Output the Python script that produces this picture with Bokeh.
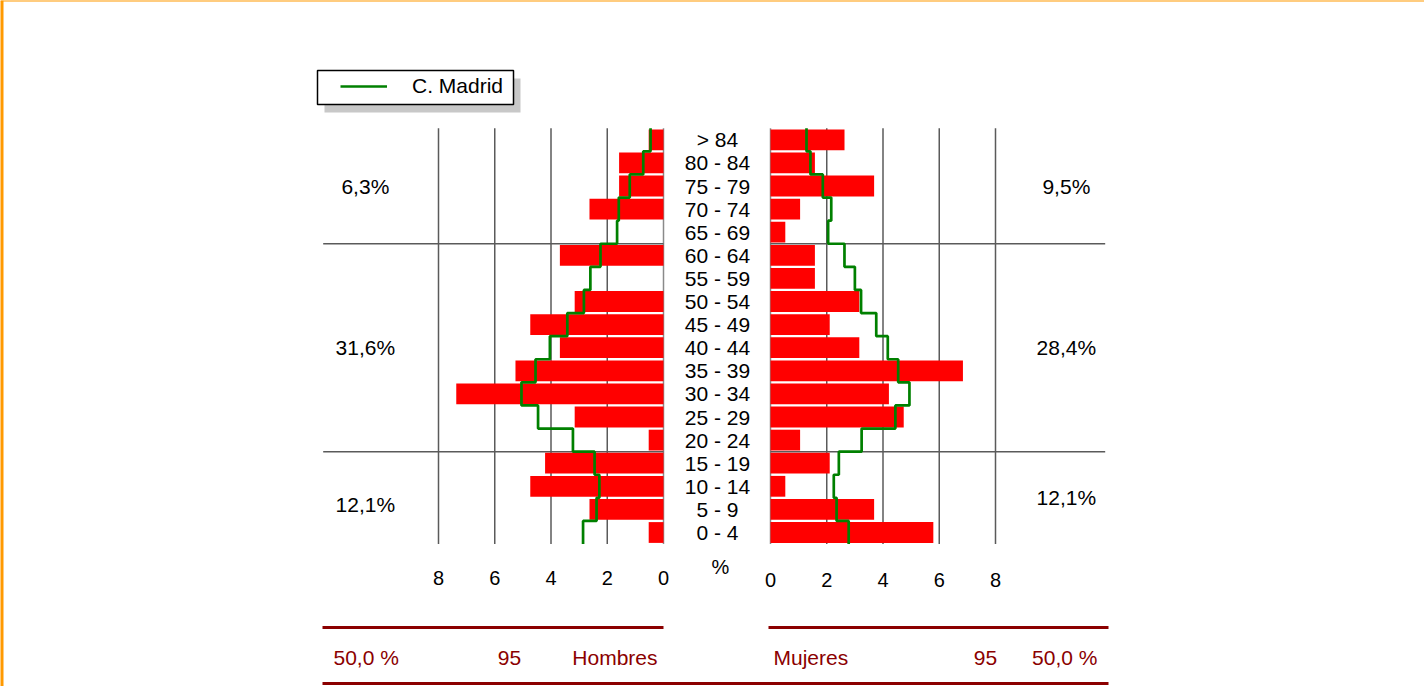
from bokeh.plotting import figure
from bokeh.models import Span, BoxAnnotation, Legend, LegendItem
from bokeh.core.properties import value
from bokeh.embed import file_html
from bokeh.resources import INLINE

# ---------------- data ----------------
age_groups = ["0 - 4", "5 - 9", "10 - 14", "15 - 19", "20 - 24", "25 - 29",
              "30 - 34", "35 - 39", "40 - 44", "45 - 49", "50 - 54", "55 - 59",
              "60 - 64", "65 - 69", "70 - 74", "75 - 79", "80 - 84", "> 84"]
hombres = [1, 5, 9, 8, 1, 6, 14, 10, 7, 9, 6, 0, 7, 0, 5, 3, 3, 1]
mujeres = [11, 7, 1, 4, 2, 9, 8, 13, 6, 4, 6, 3, 3, 1, 2, 7, 3, 5]
madrid_h = [2.86, 2.38, 2.28, 2.45, 3.22, 4.46, 5.05, 4.55, 4.04, 3.42,
            2.83, 2.60, 2.24, 1.65, 1.59, 1.20, 0.72, 0.46]
madrid_m = [2.78, 2.35, 2.25, 2.43, 3.24, 4.44, 4.94, 4.54, 4.17, 3.76,
            3.22, 3.00, 2.63, 2.05, 2.16, 1.86, 1.42, 1.28]
tick_values = [0, 2, 4, 6, 8]
group_bounds = [(0, 3), (4, 12), (13, 17)]
legend_label = "C. Madrid"
label_h = "Hombres"
label_m = "Mujeres"

# ---------------- layout constants ----------------
W, H = 1424, 686
OFF = 0              # page offset of the figure
PX = 28.125          # pixels per percent
RH = 23.1            # pixels per age row
CX = 716.5           # figure x of centre
G = 53.5 / PX        # half gap between the two pyramids (in %)
ROW0 = 532.0         # figure y of row 0 centre

def X(page_x):
    return (page_x - OFF - CX) / PX

def Y(page_y):
    return (ROW0 - (page_y - OFF)) / RH

FONT = value("Liberation Sans")
RED = "#ff0000"
GREEN = "#008000"
DARKRED = "#8b0000"
GRID = "#5a5a5a"

total = sum(hombres) + sum(mujeres)
pct_h = [v / total * 100 for v in hombres]
pct_m = [v / total * 100 for v in mujeres]
rows = list(range(len(age_groups)))

p = figure(width=W, height=H, output_backend="svg", toolbar_location=None,
           x_range=(-CX / PX, (W - CX) / PX), y_range=(-(H - ROW0) / RH, ROW0 / RH),
           x_axis_location=None, y_axis_location=None, min_border=0,
           outline_line_color=None, background_fill_color="white")
p.grid.visible = False

# grid lines (vertical)
top_row = rows[-1] + 0.5
bot_row = rows[0] - 0.5
vx = [-G - t for t in tick_values] + [G + t for t in tick_values]
vcol = [("#8a8a8a" if t == 0 else GRID) for t in tick_values] * 2
p.segment(x0=vx, x1=vx, y0=[bot_row] * len(vx), y1=[top_row] * len(vx),
          line_color=vcol, line_width=1.5)
# group separators (horizontal)
seps = [g[1] + 0.5 for g in group_bounds[:-1]]
for s in seps:
    p.segment(x0=[-G - 12.1, G], x1=[-G, G + 11.9], y0=[s, s], y1=[s, s],
              line_color=GRID, line_width=1.5)

# bars
p.hbar(y=rows, left=[-G - v for v in pct_h], right=[-G] * len(rows), height=0.9,
       fill_color=RED, line_color=None)
p.hbar(y=rows, left=[G] * len(rows), right=[G + v for v in pct_m], height=0.9,
       fill_color=RED, line_color=None)

# step lines
def steps(vals, sign):
    xs, ys = [], []
    for i in reversed(rows):
        x = sign * (G + vals[i])
        xs += [x, x]
        ys += [i + 0.5, i - 0.5]
    return xs, ys

xs, ys = steps(madrid_h, -1)
lr = p.line(xs, ys, line_color=GREEN, line_width=2.7)
xs, ys = steps(madrid_m, 1)
p.line(xs, ys, line_color=GREEN, line_width=2.7)

# age labels
p.text(x=[X(717)] * len(rows), y=rows, text=age_groups, text_font=FONT,
       text_font_size="21px", text_align="center", text_baseline="middle",
       text_color="black")

# tick labels
p.text(x=[-G - t for t in tick_values], y=[Y(577)] * len(tick_values),
       text=[str(t) for t in tick_values], text_font=FONT, text_font_size="20px",
       text_align="center", text_baseline="middle", text_color="black")
p.text(x=[G + t for t in tick_values], y=[Y(579)] * len(tick_values),
       text=[str(t) for t in tick_values], text_font=FONT, text_font_size="20px",
       text_align="center", text_baseline="middle", text_color="black")
p.text(x=[X(720)], y=[Y(566)], text=["%"], text_font=FONT, text_font_size="20px",
       text_align="center", text_baseline="middle", text_color="black")

# group percentages
def fmt(v):
    return f"{v:.1f}".replace(".", ",") + "%"

gy, gh, gm = [], [], []
for (a, b) in group_bounds:
    gy.append((a + b) / 2)
    gh.append(fmt(sum(pct_h[a:b + 1])))
    gm.append(fmt(sum(pct_m[a:b + 1])))
gy_l = [y - (0.3 if i == 0 else 0) for i, y in enumerate(gy)]
p.text(x=[-G - 10.6] * 3, y=gy_l, text=gh, text_font=FONT, text_font_size="21px",
       text_align="center", text_baseline="middle", text_color="black")
p.text(x=[G + 10.52] * 3, y=gy, text=gm, text_font=FONT, text_font_size="21px",
       text_align="center", text_baseline="middle", text_color="black")

# footer
fy_top, fy_txt, fy_bot = Y(627), Y(657), Y(683)
p.segment(x0=[X(322), X(768)], x1=[-G, X(1108)], y0=[fy_top] * 2, y1=[fy_top] * 2,
          line_color=DARKRED, line_width=3)
p.segment(x0=[X(322)], x1=[X(1108)], y0=[fy_bot], y1=[fy_bot],
          line_color=DARKRED, line_width=3)
sh, sm = sum(hombres), sum(mujeres)
ph = f"{sh / total * 100:.1f}".replace(".", ",") + " %"
pm = f"{sm / total * 100:.1f}".replace(".", ",") + " %"
foot = [(X(333), ph, "left"), (X(509), str(sh), "center"), (X(657), label_h, "right"),
        (X(773), label_m, "left"), (X(985), str(sm), "center"), (X(1097), pm, "right")]
for fx, ft, fa in foot:
    p.text(x=[fx], y=[fy_txt], text=[ft], text_font=FONT, text_font_size="21px",
           text_align=fa, text_baseline="middle", text_color=DARKRED)

# legend box with shadow
p.add_layout(BoxAnnotation(left=X(324), right=X(520), top=Y(78), bottom=Y(112),
                           fill_color="#c8c8c8", fill_alpha=1, line_color=None, level="overlay"))
p.add_layout(BoxAnnotation(left=X(317), right=X(513), top=Y(70), bottom=Y(104),
                           fill_color="white", fill_alpha=1, line_color="black",
                           line_width=1.5, line_alpha=1, level="overlay"))
legend = Legend(items=[LegendItem(label=legend_label, renderers=[lr])],
                location=(340 - OFF, H - (98 - OFF)), padding=0, spacing=0, margin=0,
                glyph_width=47, glyph_height=20, label_standoff=25,
                label_text_font="Liberation Sans", label_text_font_size="21px",
                label_text_color="black", background_fill_alpha=0,
                border_line_alpha=0)
p.add_layout(legend)

# orange page border (top and left)
p.add_layout(Span(location=ROW0 / RH, dimension="width", line_color="#ff9900", line_width=2))
p.add_layout(Span(location=-CX / PX, dimension="height", line_color="#ff9900", line_width=6))

open("out.html", "w").write(file_html(p, INLINE))
